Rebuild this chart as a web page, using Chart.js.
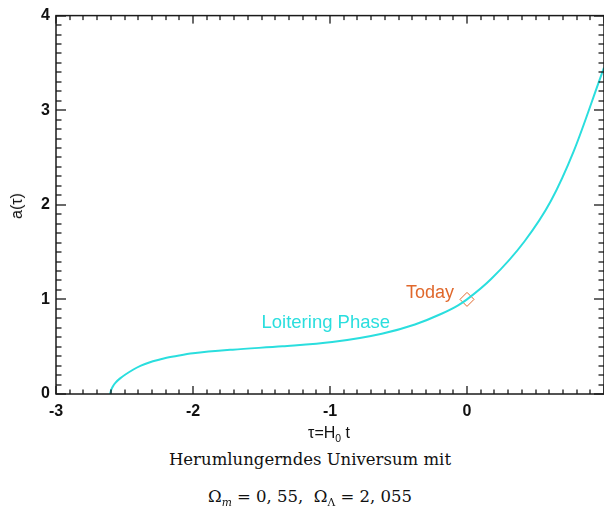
<!DOCTYPE html>
<html>
<head>
<meta charset="utf-8">
<script src="https://cdn.jsdelivr.net/npm/chart.js@4.4.1/dist/chart.umd.min.js"></script>
<style>
  html, body { margin: 0; padding: 0; background: #fff; overflow: hidden; width: 604px; height: 508px; }
  #wrap { position: absolute; left: 0; top: 0; width: 612px; height: 440px; }
  .lbl { position: absolute; font-family: "Liberation Sans", Arial, sans-serif; color: #111; white-space: nowrap; }
  .cap { position: absolute; left: 0; width: 620px; text-align: center; font-family: "DejaVu Serif", serif; color: #111; white-space: nowrap; }
  sub { font-size: 65%; vertical-align: baseline; position: relative; top: 0.35em; }
</style>
</head>
<body>
<div id="wrap"><canvas id="c" width="612" height="440"></canvas></div>
<div class="lbl" id="xt" style="left:329px; top:433px; font-size:16px; transform:translate(-50%,-50%);">τ=H<sub>0</sub> t</div>
<div class="lbl" id="yt" style="left:17px; top:206px; font-size:16px; transform:translate(-50%,-50%) rotate(-90deg);">a(τ)</div>
<div class="cap" style="top:450px; font-size:16.5px;">Herumlungerndes Universum mit</div>
<div class="cap" style="top:487px; font-size:16.5px;">Ω<sub style="font-style:italic">m</sub> = 0, 55,&nbsp; Ω<sub>Λ</sub> = 2, 055</div>
<script>
// scale factor a(τ) against dimensionless time τ = H0 t
const tau = [-2.605, -2.598, -2.585, -2.565, -2.532, -2.435, -2.38, -2.314, -2.25, -2.193, -2.10, -2.00, -1.71, -1.347, -0.984, -0.622, -0.38, -0.186, -0.065, 0.00, 0.176, 0.419, 0.612, 0.78, 0.975, 1.00];
const scaleA = [0.00, 0.04, 0.08, 0.12, 0.165, 0.259, 0.300, 0.336, 0.362, 0.383, 0.408, 0.430, 0.469, 0.504, 0.549, 0.637, 0.735, 0.848, 0.937, 1.00, 1.215, 1.612, 2.04, 2.57, 3.35, 3.45];
const todayTau = [0];
const todayA = [1];
const xTickLabels = ['-3', '-2', '-1', '0', ''];
const yTickLabels = ['0', '1', '2', '3', '4'];

const curveColor = '#2adede';
const todayColor = '#e0682c';

// IDL-style frame with inward ticks on all four sides, plus the two annotations
const framePlugin = {
  id: 'frame',
  afterDraw(chart) {
    const ctx = chart.ctx, a = chart.chartArea;
    const xs = chart.scales.x, ys = chart.scales.y;
    ctx.save();
    ctx.strokeStyle = '#1a1a1a';
    ctx.fillStyle = '#1a1a1a';
    ctx.lineWidth = 1.5;
    ctx.strokeRect(a.left, a.top, a.right - a.left, a.bottom - a.top);
    const w = 1.3;
    for (let i = 0; i <= 40; i++) {
      const v = -3 + i / 10;
      const px = Math.round(xs.getPixelForValue(v));
      const len = i % 10 === 0 ? 8 : 4.5;
      ctx.fillRect(px - w / 2, a.bottom - len, w, len);
      ctx.fillRect(px - w / 2, a.top, w, len);
    }
    for (let i = 0; i <= 40; i++) {
      const v = i / 10;
      const py = Math.round(ys.getPixelForValue(v));
      const len = i % 10 === 0 ? 10 : 5.5;
      ctx.fillRect(a.left, py - w / 2, len, w);
      ctx.fillRect(a.right - len, py - w / 2, len, w);
    }

    ctx.font = '18px "Liberation Sans", Arial, sans-serif';
    ctx.textBaseline = 'middle';
    ctx.fillStyle = todayColor;
    ctx.textAlign = 'right';
    ctx.fillText('Today', xs.getPixelForValue(todayTau[0]) - 13, ys.getPixelForValue(todayA[0]) - 6);
    ctx.fillStyle = curveColor;
    ctx.textAlign = 'left';
    ctx.font = '18.5px "Liberation Sans", Arial, sans-serif';
    ctx.fillText('Loitering Phase', xs.getPixelForValue(-1.50), ys.getPixelForValue(0.756));
    ctx.restore();
  }
};

const tickFont = { family: '"Liberation Sans", Arial, sans-serif', size: 16, weight: 'bold' };

new Chart(document.getElementById('c'), {
  type: 'scatter',
  data: {
    datasets: [
      {
        data: tau.map((t, i) => ({ x: t, y: scaleA[i] })),
        showLine: true,
        borderColor: curveColor,
        borderWidth: 2,
        pointRadius: 0,
        cubicInterpolationMode: 'monotone',
        fill: false
      },
      {
        data: todayTau.map((t, i) => ({ x: t, y: todayA[i] })),
        pointStyle: 'rectRot',
        pointRadius: 7,
        borderColor: todayColor,
        backgroundColor: 'rgba(0,0,0,0)',
        borderWidth: 1
      }
    ]
  },
  options: {
    responsive: false,
    animation: false,
    devicePixelRatio: 1,
    layout: { padding: { top: 13, right: 5.3, left: 0, bottom: 0 } },
    plugins: { legend: { display: false }, tooltip: { enabled: false } },
    scales: {
      x: {
        type: 'linear', min: -3, max: 1,
        afterFit(s) { s.height = 46; },
        border: { display: false },
        grid: { display: false, drawTicks: false },
        ticks: {
          stepSize: 1, autoSkip: false, maxRotation: 0, padding: 8,
          color: '#111',
          font: tickFont,
          callback(v) { return xTickLabels[Math.round(v) + 3]; }
        }
      },
      y: {
        type: 'linear', min: 0, max: 4,
        afterFit(s) { s.width = 56; },
        border: { display: false },
        grid: { display: false, drawTicks: false },
        ticks: {
          stepSize: 1, autoSkip: false, padding: 6,
          color: '#111',
          font: tickFont,
          callback(v) { return yTickLabels[Math.round(v)]; }
        }
      }
    }
  },
  plugins: [framePlugin]
});
</script>
</body>
</html>
